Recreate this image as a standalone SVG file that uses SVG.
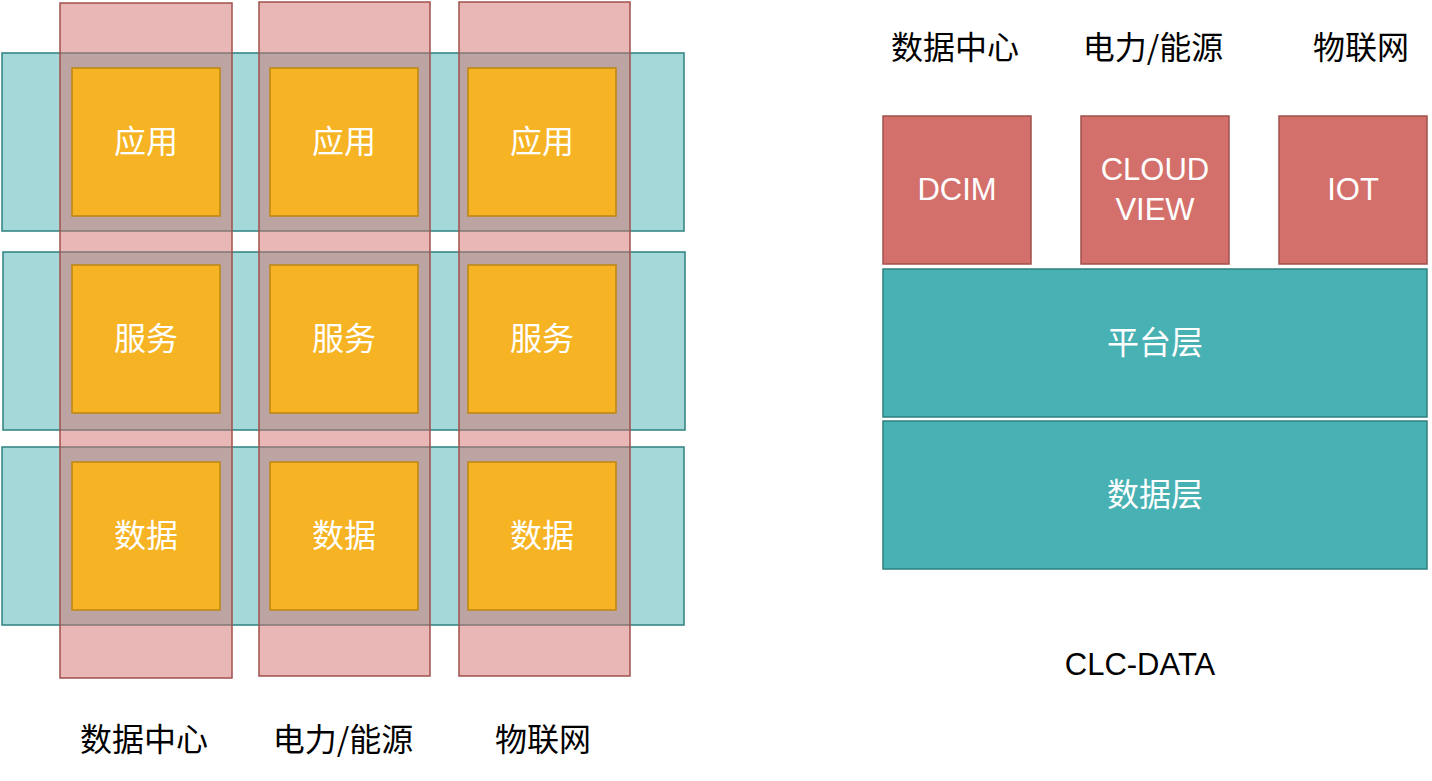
<svg xmlns="http://www.w3.org/2000/svg" width="1432" height="781" viewBox="0 0 1432 781">
<style>
.band{fill:#4AB1B4;fill-opacity:0.5;stroke:#2E8080;stroke-width:1.5}
.col{fill:#D4706B;fill-opacity:0.5;stroke:#A0504C;stroke-width:1.5}
.sq{fill:#F6B323;stroke:#BD8512;stroke-width:1.5}
.red{fill:#D4706B;stroke:#A0504C;stroke-width:1.5}
.bar{fill:#48B1B4;stroke:#2E8080;stroke-width:1.5}
.cjk{font-family:"Noto Sans CJK SC","Noto Sans",sans-serif;font-size:32px;text-anchor:middle;dominant-baseline:central}
.lat{font-family:"Liberation Sans","Noto Sans",sans-serif;font-size:31px;text-anchor:middle;dominant-baseline:central}
.w{fill:#FFFFFF}
.k{fill:#000000}
</style>
<g id="bands">
<rect id="band-app" class="band" x="2" y="53" width="682" height="178"/>
<rect id="band-svc" class="band" x="3" y="252" width="682" height="178"/>
<rect id="band-data" class="band" x="2" y="447" width="682" height="178"/>
</g>
<g id="columns">
<rect id="col-dc" class="col" x="60" y="3" width="172" height="675"/>
<rect id="col-power" class="col" x="259" y="2" width="171" height="674"/>
<rect id="col-iot" class="col" x="459" y="2" width="171" height="674"/>
</g>
<g id="n-app1"><rect class="sq" x="72" y="68" width="148" height="148"/><text class="cjk w" x="146" y="139">应用</text></g>
<g id="n-app2"><rect class="sq" x="270" y="68" width="148" height="148"/><text class="cjk w" x="344" y="139">应用</text></g>
<g id="n-app3"><rect class="sq" x="468" y="68" width="148" height="148"/><text class="cjk w" x="542" y="139">应用</text></g>
<g id="n-svc1"><rect class="sq" x="72" y="265" width="148" height="148"/><text class="cjk w" x="146" y="336">服务</text></g>
<g id="n-svc2"><rect class="sq" x="270" y="265" width="148" height="148"/><text class="cjk w" x="344" y="336">服务</text></g>
<g id="n-svc3"><rect class="sq" x="468" y="265" width="148" height="148"/><text class="cjk w" x="542" y="336">服务</text></g>
<g id="n-data1"><rect class="sq" x="72" y="462" width="148" height="148"/><text class="cjk w" x="146" y="533">数据</text></g>
<g id="n-data2"><rect class="sq" x="270" y="462" width="148" height="148"/><text class="cjk w" x="344" y="533">数据</text></g>
<g id="n-data3"><rect class="sq" x="468" y="462" width="148" height="148"/><text class="cjk w" x="542" y="533">数据</text></g>
<g id="bottom-labels">
<text class="cjk k" x="144" y="737">数据中心</text>
<text class="cjk k" x="343" y="737">电力/能源</text>
<text class="cjk k" x="543" y="737">物联网</text>
</g>
<g id="top-labels">
<text class="cjk k" x="955" y="45">数据中心</text>
<text class="cjk k" x="1153" y="45">电力/能源</text>
<text class="cjk k" x="1361" y="45">物联网</text>
</g>
<g id="n-dcim"><rect class="red" x="883" y="116" width="148" height="148"/><text class="lat w" x="957" y="189">DCIM</text></g>
<g id="n-cloudview"><rect class="red" x="1081" y="116" width="148" height="148"/><text class="lat w" x="1155" y="169">CLOUD</text><text class="lat w" x="1155" y="209">VIEW</text></g>
<g id="n-iot"><rect class="red" x="1279" y="116" width="148" height="148"/><text class="lat w" x="1353" y="189">IOT</text></g>
<g id="n-platform"><rect class="bar" x="883" y="269" width="544" height="148"/><text class="cjk w" x="1155" y="340">平台层</text></g>
<g id="n-datalayer"><rect class="bar" x="883" y="421" width="544" height="148"/><text class="cjk w" x="1155" y="492">数据层</text></g>
<g id="caption"><text class="lat k" x="1140" y="664">CLC-DATA</text></g>
<g id="connectors"></g>
</svg>
